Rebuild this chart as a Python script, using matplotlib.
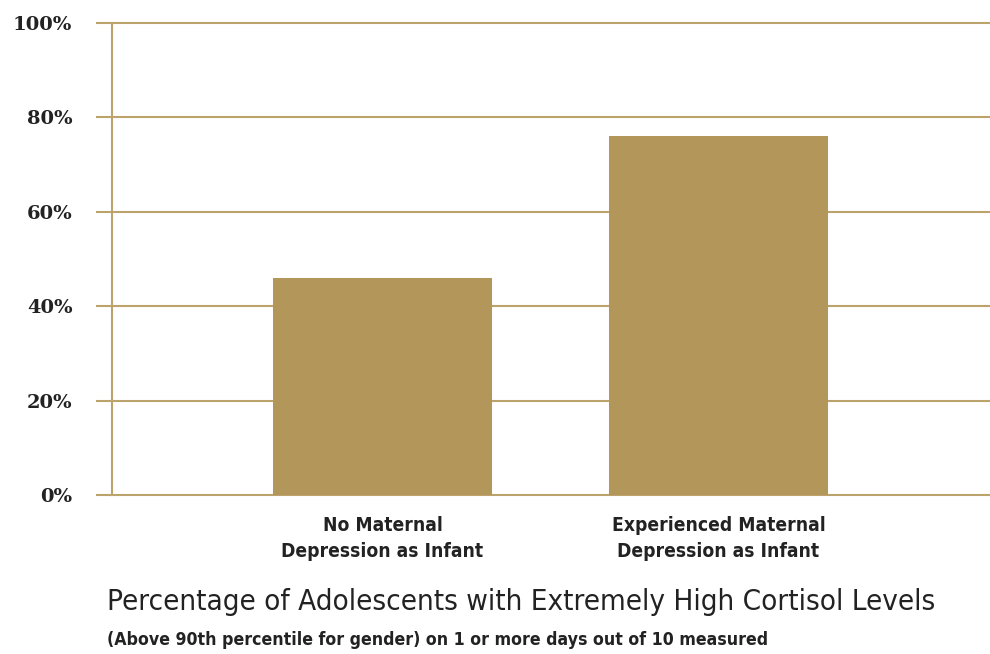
import matplotlib.pyplot as plt
from matplotlib.ticker import FuncFormatter

categories = ["No Maternal\nDepression as Infant", "Experienced Maternal\nDepression as Infant"]
values = [46, 76]
yticks = [0, 20, 40, 60, 80, 100]

bar_color = "#b3965a"
line_color = "#bca36c"
txt = "#222222"

fig = plt.figure(figsize=(9.9, 6.54), dpi=100)
ax = fig.add_axes([112 / 990, 1 - 495 / 654, 1 - 112 / 990, (495 - 23) / 654])

ax.bar([0, 1], values, width=0.65, color=bar_color, zorder=3)
ax.set_xlim(-0.805, 1.808)
ax.set_ylim(0, 100)
ax.set_yticks(yticks)
ax.yaxis.set_major_formatter(FuncFormatter(lambda v, p: f"{v:.0f}%"))
ax.grid(axis="y", color=line_color, linewidth=1.5, zorder=1)
for gl in ax.get_ygridlines():
    gl.set_clip_on(False)
ax.set_axisbelow(True)

for side in ["top", "right", "bottom"]:
    ax.spines[side].set_visible(False)
ax.spines["left"].set_color(line_color)
ax.spines["left"].set_linewidth(1.5)

ax.tick_params(axis="y", direction="out", length=11.5, width=1.5, color=line_color,
               pad=17, labelsize=14, labelcolor=txt)
for lab in ax.get_yticklabels():
    lab.set_fontweight("bold")
    lab.set_family("DejaVu Serif")

ax.set_xticks([0, 1])
ax.set_xticklabels(categories, family="DejaVu Sans", stretch="condensed", fontweight="bold",
                   fontsize=13.8, color=txt, linespacing=1.45)
ax.tick_params(axis="x", length=0, pad=15)

fig.text(107 / 990, 1 - 602 / 654, "Percentage of Adolescents with Extremely High Cortisol Levels",
         family="DejaVu Sans", stretch="condensed", fontweight="medium", fontsize=21.2,
         color=txt, va="center", ha="left")
fig.text(107 / 990, 1 - 640 / 654,
         "(Above 90th percentile for gender) on 1 or more days out of 10 measured",
         family="DejaVu Sans", stretch="condensed", fontsize=12.7, fontweight="bold",
         color=txt, va="center", ha="left")

fig.savefig("out.png", dpi=100, facecolor="white")
